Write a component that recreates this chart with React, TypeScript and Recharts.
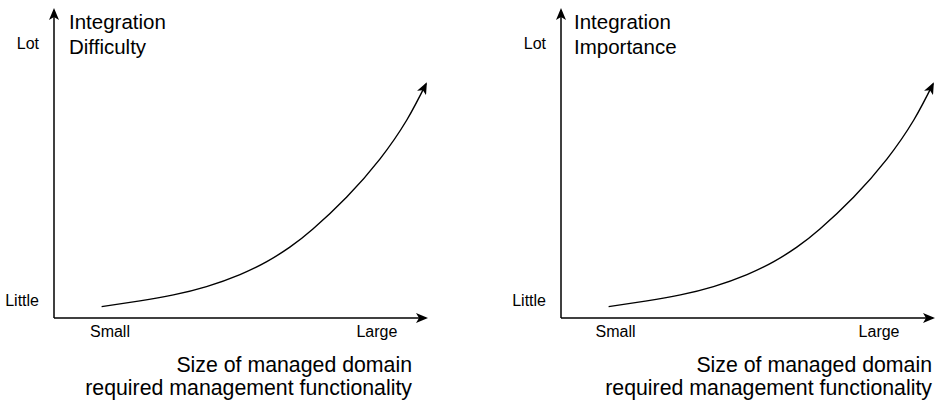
import { LineChart, Line, XAxis, YAxis } from "recharts";

// curve shared by both panels (x: domain size 0-100, y: 0-100)
const curveX = [12.8, 23.1, 32.1, 41.0, 50.0, 57.2, 63.4, 69.6, 78.7, 87.6, 94.8, 100];
const curveY = [3.7, 5.55, 7.5, 10.2, 14.1, 18.3, 23.0, 28.9, 39.3, 51.6, 64.2, 76.0];

const yTicks = [5.9, 89.3];
const yTickLabels = ["Little", "Lot"];
const xTickLabels = ["Small", "Large"];
const xTicksLeft = [15.05, 86.8];
const xTicksRight = [14.65, 85.5];

const titleLeft = ["Integration", "Difficulty"];
const titleRight = ["Integration", "Importance"];
const bottomText = ["Size of managed domain", "required management functionality"];

const curveData = curveX.map((x, i) => ({ x, y: curveY[i] }));

const FONT = '"Liberation Sans", Arial, Helvetica, sans-serif';
const W = 470;
const H = 403;

function Panel({
  left,
  xTicks,
  title,
  titleX,
  bottomX,
}: {
  left: number;
  xTicks: number[];
  title: string[];
  titleX: number;
  bottomX: number;
}) {
  return (
    <div style={{ position: "absolute", left, top: 0, width: W, height: H }}>
      <LineChart
        width={W}
        height={H}
        data={curveData}
        margin={{ top: 10, right: 44, bottom: 0, left: 0 }}
      >
        <XAxis
          type="number"
          dataKey="x"
          domain={[0, 100]}
          ticks={xTicks}
          tickFormatter={(v) => xTickLabels[xTicks.indexOf(v)] ?? ""}
          tickLine={false}
          axisLine={{ stroke: "#000", strokeWidth: 1.5, markerEnd: "url(#arrowHead)" }}
          tick={{ fill: "#000", fontSize: 16 }}
          height={85}
        />
        <YAxis
          type="number"
          domain={[0, 100]}
          ticks={yTicks}
          tickFormatter={(v) => yTickLabels[yTicks.indexOf(v)] ?? ""}
          tickLine={false}
          tickMargin={9}
          axisLine={{ stroke: "#000", strokeWidth: 1.5, markerStart: "url(#arrowHead)" }}
          tick={{ fill: "#000", fontSize: 16 }}
          width={54}
        />
        <Line
          type="natural"
          dataKey="y"
          stroke="#000"
          strokeWidth={1.4}
          dot={false}
          activeDot={false}
          markerEnd="url(#arrowHead)"
          isAnimationActive={false}
        />
      </LineChart>
      <svg
        width={W}
        height={H}
        style={{ position: "absolute", left: 0, top: 0, pointerEvents: "none" }}
      >
        <text x={titleX} y={29} fontSize={20.5} fill="#000">
          {title[0]}
        </text>
        <text x={titleX} y={53.5} fontSize={20.5} fill="#000">
          {title[1]}
        </text>
        <text x={bottomX} y={372} fontSize={21.3} fill="#000" textAnchor="end">
          {bottomText[0]}
        </text>
        <text x={bottomX} y={395} fontSize={21.3} fill="#000" textAnchor="end">
          {bottomText[1]}
        </text>
      </svg>
    </div>
  );
}

export default function App() {
  return (
    <div
      style={{
        position: "absolute",
        left: 0,
        top: 0,
        width: 943,
        height: 403,
        background: "#fff",
        fontFamily: FONT,
      }}
    >
      <svg width={0} height={0} style={{ position: "absolute" }}>
        <defs>
          <marker
            id="arrowHead"
            viewBox="0 0 12 10"
            refX={10}
            refY={5}
            markerWidth={12}
            markerHeight={10}
            markerUnits="userSpaceOnUse"
            orient="auto-start-reverse"
          >
            <path d="M0,0 L12,5 L0,10 L3,5 z" fill="#000" />
          </marker>
        </defs>
      </svg>
      <Panel left={0} xTicks={xTicksLeft} title={titleLeft} titleX={69} bottomX={412} />
      <Panel left={507} xTicks={xTicksRight} title={titleRight} titleX={67} bottomX={425} />
    </div>
  );
}
